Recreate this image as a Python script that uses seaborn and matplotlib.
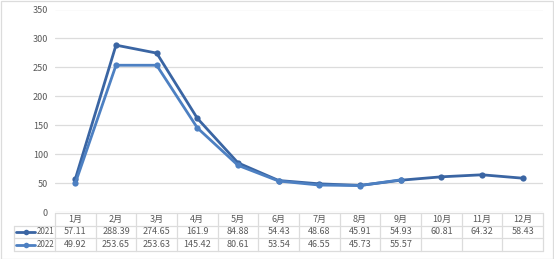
import numpy as np
import pandas as pd
import matplotlib
matplotlib.use("Agg")
import matplotlib.pyplot as plt
import matplotlib.transforms as mtransforms
from matplotlib.patches import Rectangle
import seaborn as sns

months = ["1月", "2月", "3月", "4月", "5月", "6月", "7月", "8月", "9月", "10月", "11月", "12月"]
v2021 = [57.11, 288.39, 274.65, 161.9, 84.88, 54.43, 48.68, 45.91, 54.93, 60.81, 64.32, 58.43]
v2022 = [49.92, 253.65, 253.63, 145.42, 80.61, 53.54, 46.55, 45.73, 55.57]
l2021 = ["57.11", "288.39", "274.65", "161.9", "84.88", "54.43", "48.68", "45.91", "54.93", "60.81", "64.32", "58.43"]
l2022 = ["49.92", "253.65", "253.63", "145.42", "80.61", "53.54", "46.55", "45.73", "55.57"]
years = ["2021", "2022"]
yticks = [0, 50, 100, 150, 200, 250, 300, 350]

sns.set_theme(style="white")
plt.rcParams['font.family'] = ['Noto Sans CJK SC', 'DejaVu Sans']

c2021 = "#3A65A3"
c2022 = "#4D80C2"
tcol = "#595959"
gcol = "#DCDCDC"

W, H = 554, 259
fig = plt.figure(figsize=(W / 100, H / 100), dpi=100)
L, R = 55 / W, 543 / W
B, T = 1 - 212 / H, 1 - 9.5 / H
ax = fig.add_axes([L, B, R - L, T - B])

df = pd.DataFrame({
    "idx": list(range(len(v2021))) + list(range(len(v2022))),
    "val": v2021 + v2022,
    "year": ["2021"] * len(v2021) + ["2022"] * len(v2022),
})
sns.lineplot(data=df, x="idx", y="val", hue="year", palette=[c2021, c2022],
             marker="o", markersize=4.5, markeredgewidth=0, linewidth=2.0,
             legend=False, ax=ax, hue_order=years)

ax.set_xlim(-0.5, 11.5)
ax.set_ylim(0, 350)
ax.set_yticks(yticks)
ax.set_yticklabels([str(t) for t in yticks], fontsize=6.5, color=tcol)
ax.tick_params(axis="y", length=0, pad=5)
ax.set_xticks([])
ax.set_xlabel("")
ax.set_ylabel("")
for s in ax.spines.values():
    s.set_visible(False)
ax.grid(axis="y", color=gcol, linewidth=0.9)
ax.set_axisbelow(True)

# data table
tr = mtransforms.blended_transform_factory(ax.transData, fig.transFigure)
def fy(py):
    return 1 - py / H
rows_y = [213, 225.5, 238, 251]
fs = 6.5
ax.plot([-0.5, 11.5], [fy(rows_y[0])] * 2, transform=tr, color=gcol, lw=0.9, clip_on=False)
for yy in rows_y[1:]:
    fig.add_artist(plt.Line2D([14 / W, R], [fy(yy)] * 2, color=gcol, lw=0.9))
for i in range(13):
    ax.plot([i - 0.5, i - 0.5], [fy(rows_y[0]), fy(rows_y[3])], transform=tr,
            color=gcol, lw=0.9, clip_on=False)
fig.add_artist(plt.Line2D([14 / W, 14 / W], [fy(rows_y[1]), fy(rows_y[3])], color=gcol, lw=0.9))

for i, m in enumerate(months):
    ax.text(i, fy((rows_y[0] + rows_y[1]) / 2), m, transform=tr, ha="center", va="center",
            fontsize=fs, color=tcol)
for i, s in enumerate(l2021):
    ax.text(i, fy((rows_y[1] + rows_y[2]) / 2), s, transform=tr, ha="center", va="center",
            fontsize=fs, color=tcol)
for i, s in enumerate(l2022):
    ax.text(i, fy((rows_y[2] + rows_y[3]) / 2), s, transform=tr, ha="center", va="center",
            fontsize=fs, color=tcol)

for k, (yr, col) in enumerate(zip(years, [c2021, c2022])):
    yc = fy((rows_y[1 + k] + rows_y[2 + k]) / 2)
    fig.add_artist(plt.Line2D([16 / W, 35 / W], [yc, yc], color=col, lw=2.0))
    fig.add_artist(plt.Line2D([25.5 / W], [yc], color=col, marker="o", markersize=4, markeredgewidth=0))
    fig.text(37 / W, yc, yr, ha="left", va="center", fontsize=5.8, color=tcol)

fig.add_artist(Rectangle((0.5 / W, 0.5 / H), (W - 1.5) / W, (H - 1.5) / H, transform=fig.transFigure,
                         fill=False, edgecolor=gcol, linewidth=0.9))

fig.savefig("out.png", dpi=100, facecolor="white")
